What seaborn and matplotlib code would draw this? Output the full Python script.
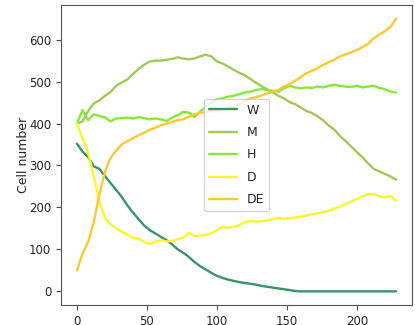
import matplotlib
matplotlib.use("Agg")
import matplotlib.pyplot as plt
import seaborn as sns
import numpy as np
import pandas as pd

t = list(range(0, 229, 4))

W = [352, 333, 320, 298, 292, 275, 258, 242, 225, 205, 188, 172, 157, 146, 138,
     130, 122, 112, 100, 92, 82, 70, 60, 52, 44, 37, 32, 28, 25, 22, 20, 18, 16,
     13, 11, 9, 7, 5, 3, 1, 0, 0, 0, 0, 0, 0, 0, 0, 0, 0, 0, 0, 0, 0, 0, 0, 0, 0]

M = [400, 405, 430, 448, 455, 466, 475, 490, 498, 505, 518, 530, 540, 548, 550,
     550, 552, 554, 558, 555, 553, 555, 560, 564, 560, 548, 543, 536, 528, 521,
     515, 506, 497, 489, 481, 474, 466, 460, 451, 446, 438, 430, 425, 417, 407,
     395, 385, 370, 358, 345, 332, 320, 305, 292, 286, 280, 274, 266]

H = [400, 432, 408, 422, 418, 415, 405, 412, 413, 414, 412, 415, 413, 410, 412,
     410, 406, 414, 420, 428, 426, 416, 428, 440, 450, 458, 460, 464, 466, 470,
     474, 476, 480, 482, 480, 478, 476, 484, 490, 486, 484, 486, 485, 488, 486,
     490, 492, 490, 488, 487, 490, 486, 488, 490, 485, 482, 476, 474]

D = [400, 365, 330, 275, 215, 175, 160, 150, 142, 135, 128, 126, 118, 113, 118,
     122, 119, 120, 124, 128, 140, 132, 132, 135, 138, 146, 154, 151, 154, 158,
     165, 168, 166, 167, 169, 172, 175, 173, 175, 176, 178, 181, 184, 186, 189,
     192, 197, 202, 208, 214, 220, 226, 232, 232, 227, 224, 228, 215]

DE = [50, 90, 118, 165, 230, 285, 318, 335, 350, 358, 365, 372, 378, 385, 390,
      396, 400, 404, 408, 410, 416, 422, 425, 428, 430, 432, 434, 436, 440, 446,
      454, 460, 463, 467, 472, 476, 480, 488, 494, 502, 511, 520, 526, 532, 540,
      546, 552, 560, 565, 570, 575, 582, 590, 603, 612, 620, 630, 650]

names = ["W", "M", "H", "D", "DE"]
series = [W, M, H, D, DE]
colors = ["#3a9468", "#a2c958", "#84ea3a", "#fbf52c", "#ffc832"]

sns.set_style("ticks")
plt.rcParams["font.family"] = ["DejaVu Sans"]

fig = plt.figure(figsize=(4.15, 3.25), dpi=100)
ax = fig.add_axes([61 / 415, 20 / 325, 351 / 415, 300 / 325])

for name, vals, c in zip(names, series, colors):
    sns.lineplot(x=t, y=vals, ax=ax, color=c, label=name, linewidth=1.7)

ax.set_ylabel("Cell number", fontsize=9, labelpad=-1)
ax.set_xlabel("")
ax.set_yticks([0, 100, 200, 300, 400, 500, 600])
ax.set_xticks([0, 50, 100, 150, 200])
ax.tick_params(labelsize=8.5, length=3.5, color="#555555")
for s in ax.spines.values():
    s.set_color("#555555")
leg = ax.legend(loc="center", fontsize=9, frameon=True, labelspacing=0.75,
                handlelength=2.2)

fig.savefig("out.png", dpi=100)
